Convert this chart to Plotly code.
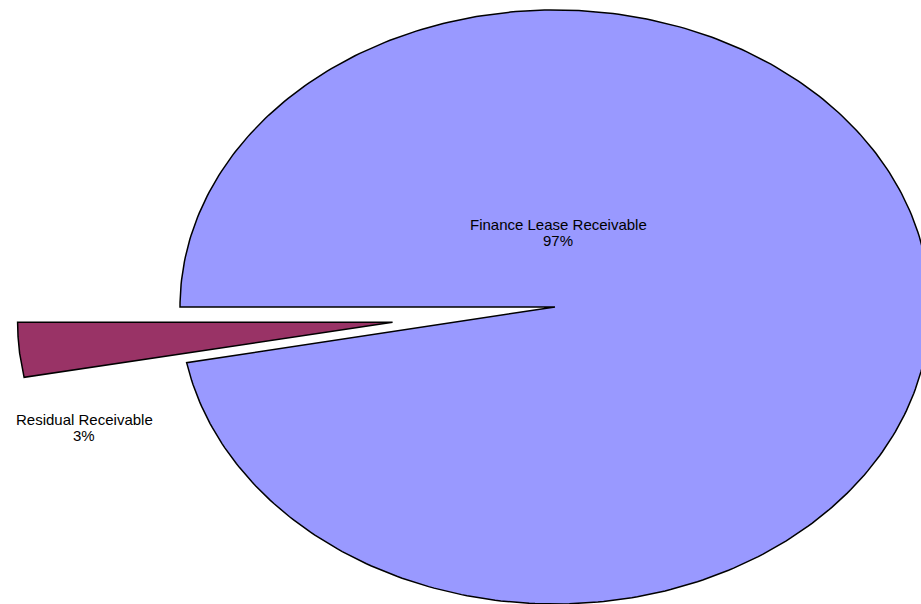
import numpy as np
import plotly.graph_objects as go

labels = ["Finance Lease Receivable", "Residual Receivable"]
values = [97, 3]
colors = ["#9999FF", "#993366"]
explode = [0.0, 0.435]

W, H = 921, 604
cx, cy = 555, 307
rx, ry = 375, 297
start_deg = 270.0  # clockwise from 12 o'clock

total = sum(values)
fig = go.Figure()
ang = start_deg
mids = []
for lab, v, c, e in zip(labels, values, colors, explode):
    span = 360.0 * v / total
    a0, a1 = ang, ang + span
    mid = np.radians((a0 + a1) / 2)
    ox = e * rx * np.sin(mid)
    oy = -e * rx * np.cos(mid)
    t = np.radians(np.linspace(a0, a1, 400))
    xs = np.concatenate([[cx + ox], cx + ox + rx * np.sin(t), [cx + ox]])
    ys = np.concatenate([[cy + oy], cy + oy - ry * np.cos(t), [cy + oy]])
    fig.add_trace(go.Scatter(x=xs, y=ys, mode="lines", fill="toself",
                             fillcolor=c, line=dict(color="black", width=1.5),
                             hoverinfo="skip", showlegend=False))
    mids.append((lab, v))
    ang = a1

label_pos = [(558, 224), (84, 419)]
line_gap = 16.5
font = dict(family="Liberation Sans, Arial", size=15, color="black")
for (lab, v), (lx, ly) in zip(mids, label_pos):
    pct = round(100 * v / total)
    fig.add_annotation(x=lx, y=ly, text=lab, showarrow=False, font=font,
                       xanchor="center", yanchor="middle")
    fig.add_annotation(x=lx, y=ly + line_gap, text=f"{pct}%", showarrow=False, font=font,
                       xanchor="center", yanchor="middle")

fig.update_layout(
    width=W, height=H, margin=dict(l=0, r=0, t=0, b=0),
    paper_bgcolor="white", plot_bgcolor="white",
    xaxis=dict(range=[0, W], visible=False, fixedrange=True),
    yaxis=dict(range=[H, 0], visible=False, fixedrange=True),
)
fig.write_html("out.html", config={"displayModeBar": False},
               post_script="document.body.style.margin='0';document.body.style.overflow='hidden';")
